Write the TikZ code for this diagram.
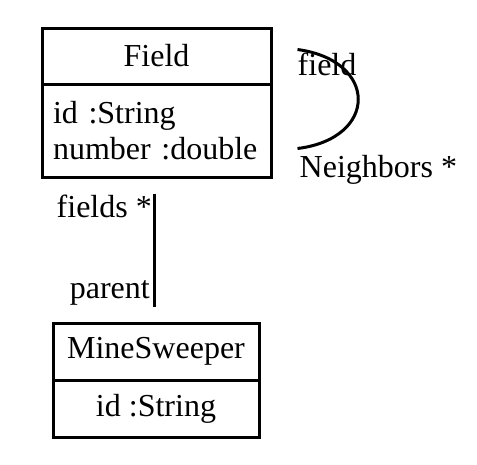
\documentclass[tikz,border=0pt]{standalone}
\usepackage{fontspec}
\setmainfont{Liberation Serif}
\begin{document}
\begin{tikzpicture}[x=1pt,y=-1pt,
  every node/.style={font=\fontsize{32}{37}\selectfont},
  umlbox/.style={draw, line width=3pt, rectangle, inner sep=0pt},
  lbl/.style={inner sep=0pt},
  assoc/.style={line width=3pt}]
\useasboundingbox (0,0) rectangle (477,464);
% Field class
\node[umlbox, minimum width=229pt, minimum height=56pt] (fieldTitle) at (156.5,56) {Field};
\node[umlbox, minimum width=229pt, minimum height=93pt, text width=207pt, inner xsep=11pt, align=left] (fieldAttrs) at (156.5,130.5) {\mbox{id :String}\\[-1pt]\mbox{number :double}};
% MineSweeper class
\node[umlbox, minimum width=206pt, minimum height=57pt] (msTitle) at (156,351.5) {MineSweeper};
\node[umlbox, minimum width=206pt, minimum height=57pt] (msAttrs) at (156,408.5) {id :String};
% association fields/parent
\coordinate (aTop) at ([xshift=-2.5pt,yshift=-15pt]fieldAttrs.south);
\coordinate (aBot) at ([xshift=-2pt,yshift=15pt]msTitle.north);
\draw[assoc] (aTop) -- (aBot);
\node[lbl, anchor=base east] (lblFields) at ([xshift=-2pt]aTop |- 0,217) {fields *};
\node[lbl, anchor=base east] (lblParent) at ([xshift=-4pt]aTop |- 0,298) {parent};
% self association
\coordinate (sStart) at ([xshift=25pt,yshift=-23pt]fieldTitle.north east);
\coordinate (sEnd) at ([xshift=25pt,yshift=-122pt]fieldTitle.north east);
\draw[assoc] (sStart) .. controls ++(81,11) and ++(81,-10) .. (sEnd);
\node[lbl, anchor=base west] (lblField) at (sStart |- 0,75) {field};
\node[lbl, anchor=base west] (lblNeigh) at ([xshift=2pt]sEnd |- 0,177) {Neighbors *};
\end{tikzpicture}
\end{document}
